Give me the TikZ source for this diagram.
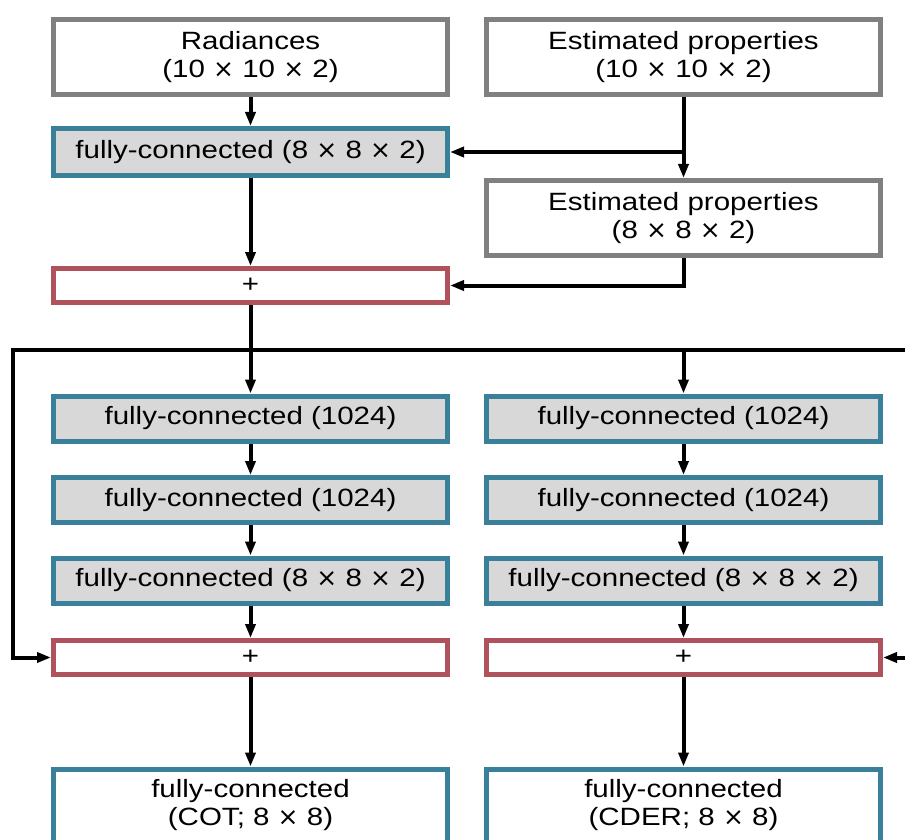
\documentclass[tikz,border=0pt]{standalone}
\usepackage{fontspec}
\setmainfont{Liberation Sans}[FakeStretch=1.18]
\newfontfamily\symfont{DejaVu Sans}
\usetikzlibrary{arrows.meta}
\definecolor{boxgrey}{RGB}{128,128,128}
\definecolor{fcblue}{RGB}{58,128,155}
\definecolor{sumred}{RGB}{176,82,92}
\definecolor{fcfill}{RGB}{216,216,216}
\newcommand{\by}{{\symfont ×}}
\tikzset{
  base/.style={draw, line width=5pt, minimum width=394pt, inner ysep=0pt, align=center,
    font=\fontsize{25}{28}\selectfont},
  inbox/.style={base, draw=boxgrey, minimum height=75pt},
  fcbox/.style={base, draw=fcblue, fill=fcfill, minimum height=45pt},
  sumbox/.style={base, draw=sumred, minimum height=34pt},
  outbox/.style={base, draw=fcblue, anchor=north, inner ysep=10pt, text height=46pt, text depth=50pt},
  conn/.style={line width=4pt, -{Triangle[length=14pt,width=10pt]}},
}
\begin{document}
\begin{tikzpicture}[x=1pt, y=-1pt]
            \useasboundingbox (0,0) rectangle (905,840);
            % inputs
            \node[inbox] (rad) at (250.5,57) {Radiances\\(10 \by{} 10 \by{} 2)};
            \node[inbox] (estA) at (683.5,57) {Estimated properties\\(10 \by{} 10 \by{} 2)};
            \node[fcbox, minimum height=47pt] (fcA) at (250.5,152) {fully-connected (8 \by{} 8 \by{} 2)};
            \node[inbox] (estB) at (683.5,218) {Estimated properties\\(8 \by{} 8 \by{} 2)};
            \node[sumbox] (sumA) at (250.5,285.5) {+};
            % two branches
            \node[fcbox] (fcL1) at (250.5,418.5) {fully-connected (1024)};
            \node[fcbox] (fcL2) at (250.5,500) {fully-connected (1024)};
            \node[fcbox] (fcL3) at (250.5,580.5) {fully-connected (8 \by{} 8 \by{} 2)};
            \node[sumbox] (sumL) at (250.5,657.5) {+};
            \node[outbox] (outL) at (250.5,766.5) {fully-connected\\(COT; 8 \by{} 8)};
            \node[fcbox] (fcR1) at (683.5,418.5) {fully-connected (1024)};
            \node[fcbox] (fcR2) at (683.5,500) {fully-connected (1024)};
            \node[fcbox] (fcR3) at (683.5,580.5) {fully-connected (8 \by{} 8 \by{} 2)};
            \node[sumbox] (sumR) at (683.5,657.5) {+};
            \node[outbox] (outR) at (683.5,766.5) {fully-connected\\(CDER; 8 \by{} 8)};
            % junctions
            \coordinate (jA) at (estA.south |- fcA.east);
            \coordinate (busL) at (13,350);
            \coordinate (busR) at (905,350);
            \coordinate (busM) at (fcR1.north |- busL);
            \coordinate (edgeR) at (905,657.5);
            % connectors
            \draw[conn] (rad) -- (fcA);
            \draw[conn] (estA) -- (estB);
            \draw[conn] (jA) -- (fcA.east);
            \draw[conn] (estB.south) |- (sumA.east);
            \draw[conn] (fcA) -- (sumA);
            \draw[conn] (sumA) -- (fcL1);
            \draw[conn] (busR) -- (busL) |- (sumL.west);
            \draw[conn] (busM) -- (fcR1);
            \draw[conn] (edgeR) -- (sumR.east);
            \draw[conn] (fcL1) -- (fcL2);
            \draw[conn] (fcL2) -- (fcL3);
            \draw[conn] (fcL3) -- (sumL);
            \draw[conn] (sumL) -- (outL);
            \draw[conn] (fcR1) -- (fcR2);
            \draw[conn] (fcR2) -- (fcR3);
            \draw[conn] (fcR3) -- (sumR);
            \draw[conn] (sumR) -- (outR);
        \end{tikzpicture}
\end{document}
